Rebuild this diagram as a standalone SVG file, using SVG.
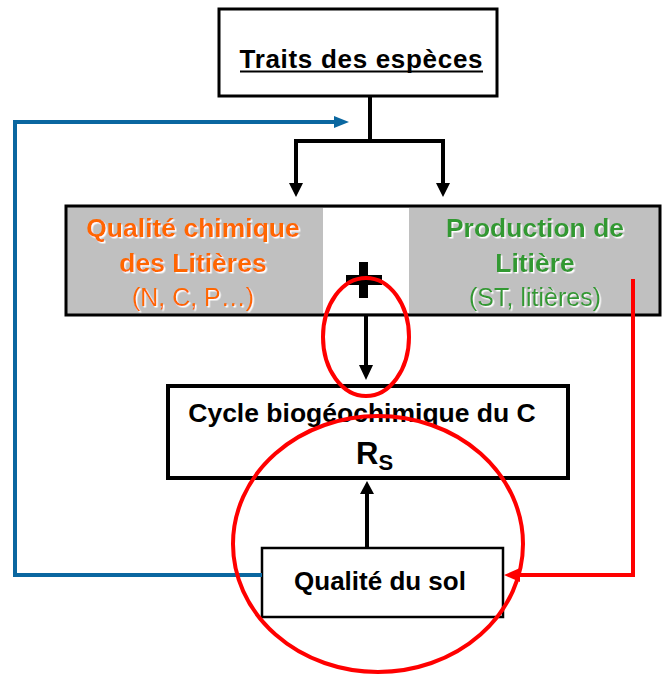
<svg xmlns="http://www.w3.org/2000/svg" width="663" height="674" viewBox="0 0 663 674">
<style>
.box{fill:#fff;stroke:#000}
.t{font-family:"Liberation Sans",Arial,sans-serif;text-anchor:middle}
.b{font-weight:bold}
.blk{stroke:#000;stroke-width:4;fill:none}
.blue{stroke:#0a67a0;stroke-width:4;fill:none}
.red{stroke:#ff0000;stroke-width:4;fill:none}
</style>
<defs>
<filter id="sh" x="-10%" y="-10%" width="120%" height="130%">
<feDropShadow dx="1.5" dy="1.5" stdDeviation="0.3" flood-color="#ffffff" flood-opacity="1"/>
</filter>
</defs>
<rect width="663" height="674" fill="#fff"/>

<g id="traits">
<rect class="box" x="219" y="9" width="278" height="87" stroke-width="3"/>
<text class="t b" x="361" y="68" font-size="26" textLength="243" lengthAdjust="spacing">Traits des espèces</text>
<line x1="240" y1="71.5" x2="483" y2="71.5" stroke="#000" stroke-width="2"/>
</g>

<g id="litieres">
<rect x="66" y="206" width="594" height="109" fill="#c0c0c0" stroke="#000" stroke-width="3"/>
<rect x="323" y="208" width="86" height="105" fill="#fff"/>
<g filter="url(#sh)">
<text class="t b" x="193" y="237" font-size="26.5" fill="#ff6600">Qualité chimique</text>
<text class="t b" x="193" y="272" font-size="26.5" fill="#ff6600">des Litières</text>
<text class="t" x="193" y="306" font-size="25" fill="#ff6600">(N, C, P…)</text>
<text class="t b" x="535" y="237" font-size="26.5" fill="#339933">Production de</text>
<text class="t b" x="535" y="272" font-size="26.5" fill="#339933">Litière</text>
<text class="t" x="535" y="306" font-size="25" fill="#339933">(ST, litières)</text>
</g>
<rect x="359" y="262" width="9" height="36" fill="#000"/>
<rect x="346" y="275" width="36" height="10" fill="#000"/>
</g>

<g id="cycle">
<rect class="box" x="168" y="386" width="400" height="92" stroke-width="4"/>
<text class="t b" x="362" y="422" font-size="26.5">Cycle biogéochimique du C</text>
<text class="b" x="356" y="464" font-size="31" font-family="Liberation Sans,Arial,sans-serif">R<tspan font-size="22" dy="6">S</tspan></text>
</g>

<g id="sol">
<rect class="box" x="262" y="548" width="241" height="69" stroke-width="2.5"/>
<text class="t b" x="380" y="590" font-size="26">Qualité du sol</text>
</g>

<g id="connectors">
<path class="blk" d="M370 96 V141 M296 141 H445 M296 139 V184 M443 139 V184"/>
<path d="M289 183 L303 183 L296 197 Z M436 183 L450 183 L443 197 Z" fill="#000"/>
<path class="blk" d="M366 316 V366" stroke-width="3"/>
<path d="M359 365 L373 365 L366 380 Z" fill="#000"/>
<path class="blk" d="M367 548 V493" stroke-width="3"/>
<path d="M360 494 L374 494 L367 481 Z" fill="#000"/>
<path class="blue" d="M336 122 H15 V575 H262"/>
<path d="M334 116 L349 122 L334 128 Z" fill="#0a67a0"/>
<path class="red" d="M633 279 V575 H519"/>
<path d="M520 568 L504 575 L520 582 Z" fill="#ff0000"/>
</g>

<g id="highlights">
<ellipse class="red" cx="366" cy="337" rx="43" ry="59"/>
<ellipse class="red" cx="378" cy="544" rx="145" ry="128"/>
</g>
</svg>
